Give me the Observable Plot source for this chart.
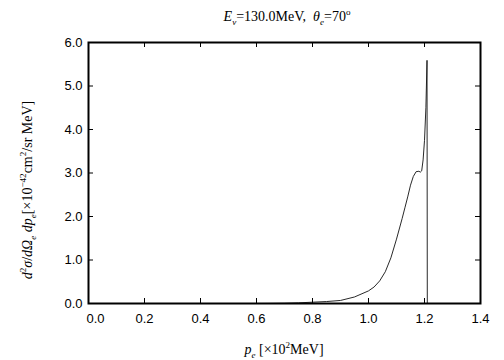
<!DOCTYPE html>
<html>
<head>
<meta charset="utf-8">
<script src="https://cdn.jsdelivr.net/npm/d3@7"></script>
<script src="https://cdn.jsdelivr.net/npm/@observablehq/plot@0.6"></script>
<style>
  body { margin: 0; background: #fff; }
  #wrap { position: relative; width: 504px; height: 360px; }
  .lbl { position: absolute; font-family: "Liberation Serif", "Times New Roman", serif; font-size: 14px; color: #000; white-space: nowrap; line-height: 1; }
  .lbl sub, .lbl sup { font-size: 65%; line-height: 0; }
  #title { left: 287px; top: 10px; transform: translateX(-50%); }
  #xlab { left: 284px; top: 343px; transform: translateX(-50%); }
  #ylab { left: 28px; top: 190px; transform: translate(-50%, -50%) rotate(-90deg); }
</style>
</head>
<body>
<div id="wrap">
  <div id="chart"></div>
  <div class="lbl" id="title"><i>E</i><sub><i>ν</i></sub>=130.0MeV,&nbsp;&nbsp;<i>θ</i><sub><i>e</i></sub>=70<sup>o</sup></div>
  <div class="lbl" id="xlab"><i>p</i><sub><i>e</i></sub> [×10<sup>2</sup>MeV]</div>
  <div class="lbl" id="ylab"><i>d</i><sup>2</sup><i>σ</i>/<i>d</i><i>Ω</i><sub><i>e</i></sub> <i>dp</i><sub><i>e</i></sub>[×10<sup>−42</sup>cm<sup>2</sup>/sr MeV]</div>
</div>
<script>
const pe = [0.60, 0.65, 0.70, 0.75, 0.80, 0.85, 0.90, 0.95, 1.00, 1.02, 1.04, 1.06, 1.08, 1.10, 1.12, 1.13, 1.14, 1.15, 1.16, 1.17, 1.18, 1.185, 1.19, 1.195, 1.20, 1.205, 1.209, 1.21];
const xsec = [0, 0.002, 0.006, 0.015, 0.03, 0.045, 0.07, 0.15, 0.29, 0.38, 0.52, 0.73, 1.05, 1.48, 1.95, 2.2, 2.45, 2.72, 2.92, 3.03, 3.04, 3.02, 3.05, 3.3, 3.75, 4.5, 5.59, 0];
const xTicks = [0, 0.2, 0.4, 0.6, 0.8, 1.0, 1.2, 1.4];
const yTicks = [0, 1, 2, 3, 4, 5, 6];

const data = pe.map((x, i) => ({x, y: xsec[i]}));
const fmt = d3.format(".1f");
const tickLen = 5;
const frameH = 360 - 42 - 57;
const frameW = 504 - 88 - 24;

const chart = Plot.plot({
  width: 504,
  height: 360,
  marginLeft: 88,
  marginRight: 24,
  marginTop: 42,
  marginBottom: 57,
  style: {fontFamily: "'Liberation Sans', Arial, sans-serif", fontSize: "13px", color: "#000", background: "#fff"},
  x: {domain: [0, 1.4]},
  y: {domain: [0, 6]},
  marks: [
    Plot.axisX({anchor: "bottom", ticks: xTicks.slice(0, 1), tickFormat: fmt, tickSize: 0, textAnchor: "start", dx: -2, tickPadding: 10, label: null}),
    Plot.axisX({anchor: "bottom", ticks: xTicks.slice(1), tickFormat: fmt, tickSize: 0, tickPadding: 10, label: null}),
    Plot.axisY({anchor: "left", ticks: yTicks, tickFormat: fmt, tickSize: 0, tickPadding: 6, label: null}),
    Plot.tickX(xTicks, {x: d => d, insetTop: frameH - tickLen, stroke: "#000"}),
    Plot.tickX(xTicks, {x: d => d, insetBottom: frameH - tickLen, stroke: "#000"}),
    Plot.tickY(yTicks, {y: d => d, insetRight: frameW - tickLen, stroke: "#000"}),
    Plot.tickY(yTicks, {y: d => d, insetLeft: frameW - tickLen, stroke: "#000"}),
    Plot.line(data, {x: "x", y: "y", stroke: "#111", strokeWidth: 0.9}),
    Plot.frame({stroke: "#000", strokeWidth: 2})
  ]
});
document.getElementById("chart").appendChild(chart);
</script>
</body>
</html>
